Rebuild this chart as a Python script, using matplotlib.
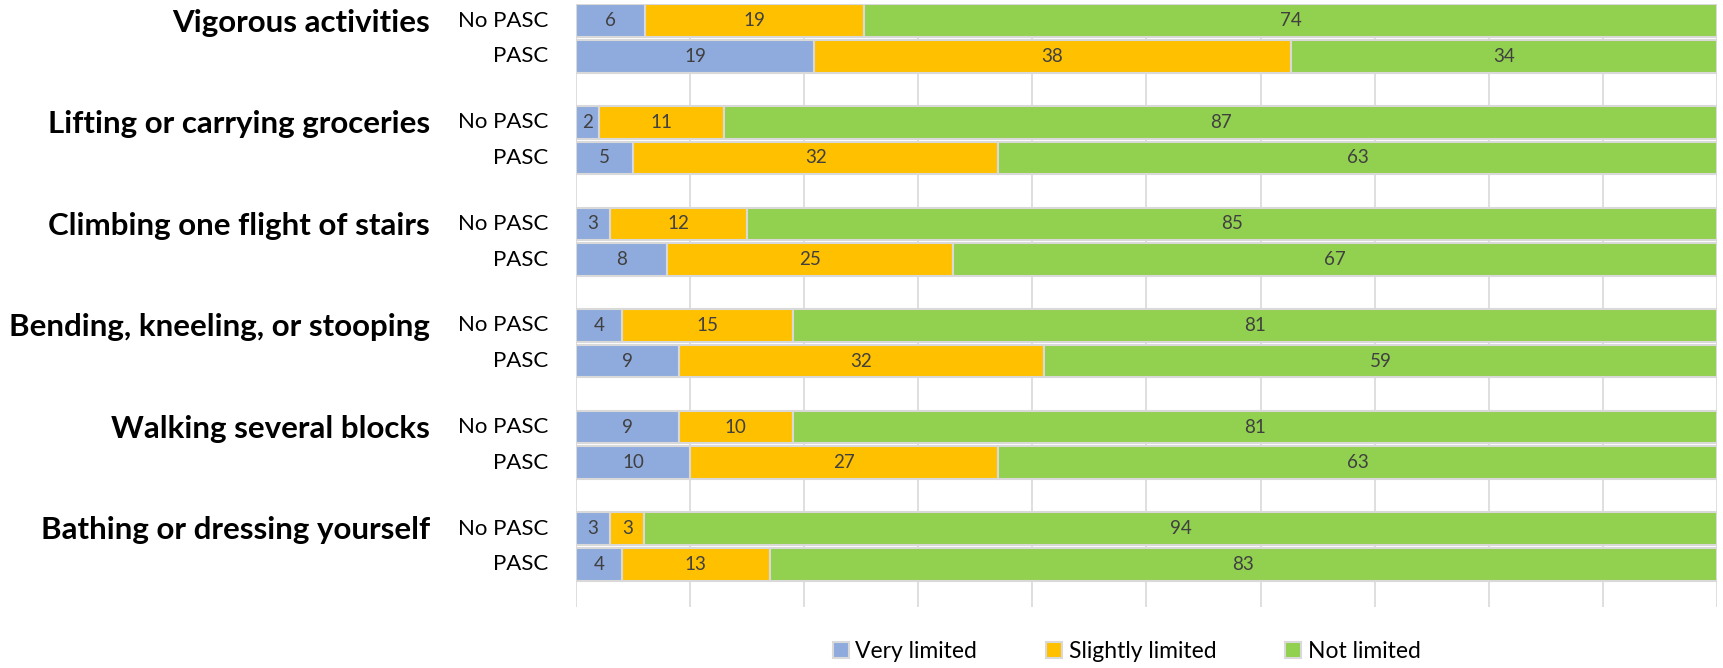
import matplotlib.pyplot as plt
import numpy as np

activities = [
    "Vigorous activities",
    "Lifting or carrying groceries",
    "Climbing one flight of stairs",
    "Bending, kneeling, or stooping",
    "Walking several blocks",
    "Bathing or dressing yourself",
]
groups = ["No PASC", "PASC"]
levels = ["Very limited", "Slightly limited", "Not limited"]
colors = ["#8faadc", "#ffc000", "#92d050"]

# per activity: [No PASC, PASC]
very_limited = [[6, 19], [2, 5], [3, 8], [4, 9], [9, 10], [3, 4]]
slightly_limited = [[19, 38], [11, 32], [12, 25], [15, 32], [10, 27], [3, 13]]
not_limited = [[74, 34], [87, 63], [85, 67], [81, 59], [81, 63], [94, 83]]

plt.rcParams['font.family'] = ['Lato', 'DejaVu Sans']

fig = plt.figure(figsize=(17.23, 6.68), dpi=100)
ax = fig.add_axes([0.3343, 0.0913, 0.6622, 0.9027])

group_step = 2.85
bar_h = 0.92
vals = np.array([very_limited, slightly_limited, not_limited], dtype=float)
totals = vals.sum(axis=0)

for i in range(len(activities)):
    for j in range(2):
        y = i * group_step + (j - 0.5)
        left = 0.0
        for k in range(3):
            w = vals[k, i, j] / totals[i, j] * 100
            ax.barh(y, w, left=left, height=bar_h, color=colors[k],
                    edgecolor="#d9d9d9", linewidth=1.5, zorder=3,
                    label=levels[k] if (i == 0 and j == 0) else None)
            ax.text(left + w / 2, y, f"{int(vals[k, i, j])}", ha="center",
                    va="center", fontsize=13.5, color="#404040", zorder=4)
            left += w
        ax.text(-2.4, y, groups[j], ha="right", va="center", fontsize=16,
                color="black", clip_on=False)
    ax.text(-12.8, i * group_step - 0.45, activities[i], ha="right", va="center",
            fontsize=22.5, fontweight="bold", color="black", clip_on=False)

ax.set_xlim(0, 100)
ax.set_ylim(15.95, -0.97)
ax.set_xticks(np.arange(0, 101, 10))
ax.xaxis.grid(True, color="#d9d9d9", linewidth=1.2, zorder=0)
ax.set_axisbelow(True)
ax.tick_params(left=False, bottom=False, labelleft=False, labelbottom=False)
for s in ax.spines.values():
    s.set_visible(False)

fig.legend(loc="center", bbox_to_anchor=(0.654, 0.024), ncol=3, frameon=False,
           fontsize=16.5, handlelength=0.7, handleheight=0.7, handletextpad=0.3,
           columnspacing=3.0)

fig.savefig("out.png", dpi=100)
